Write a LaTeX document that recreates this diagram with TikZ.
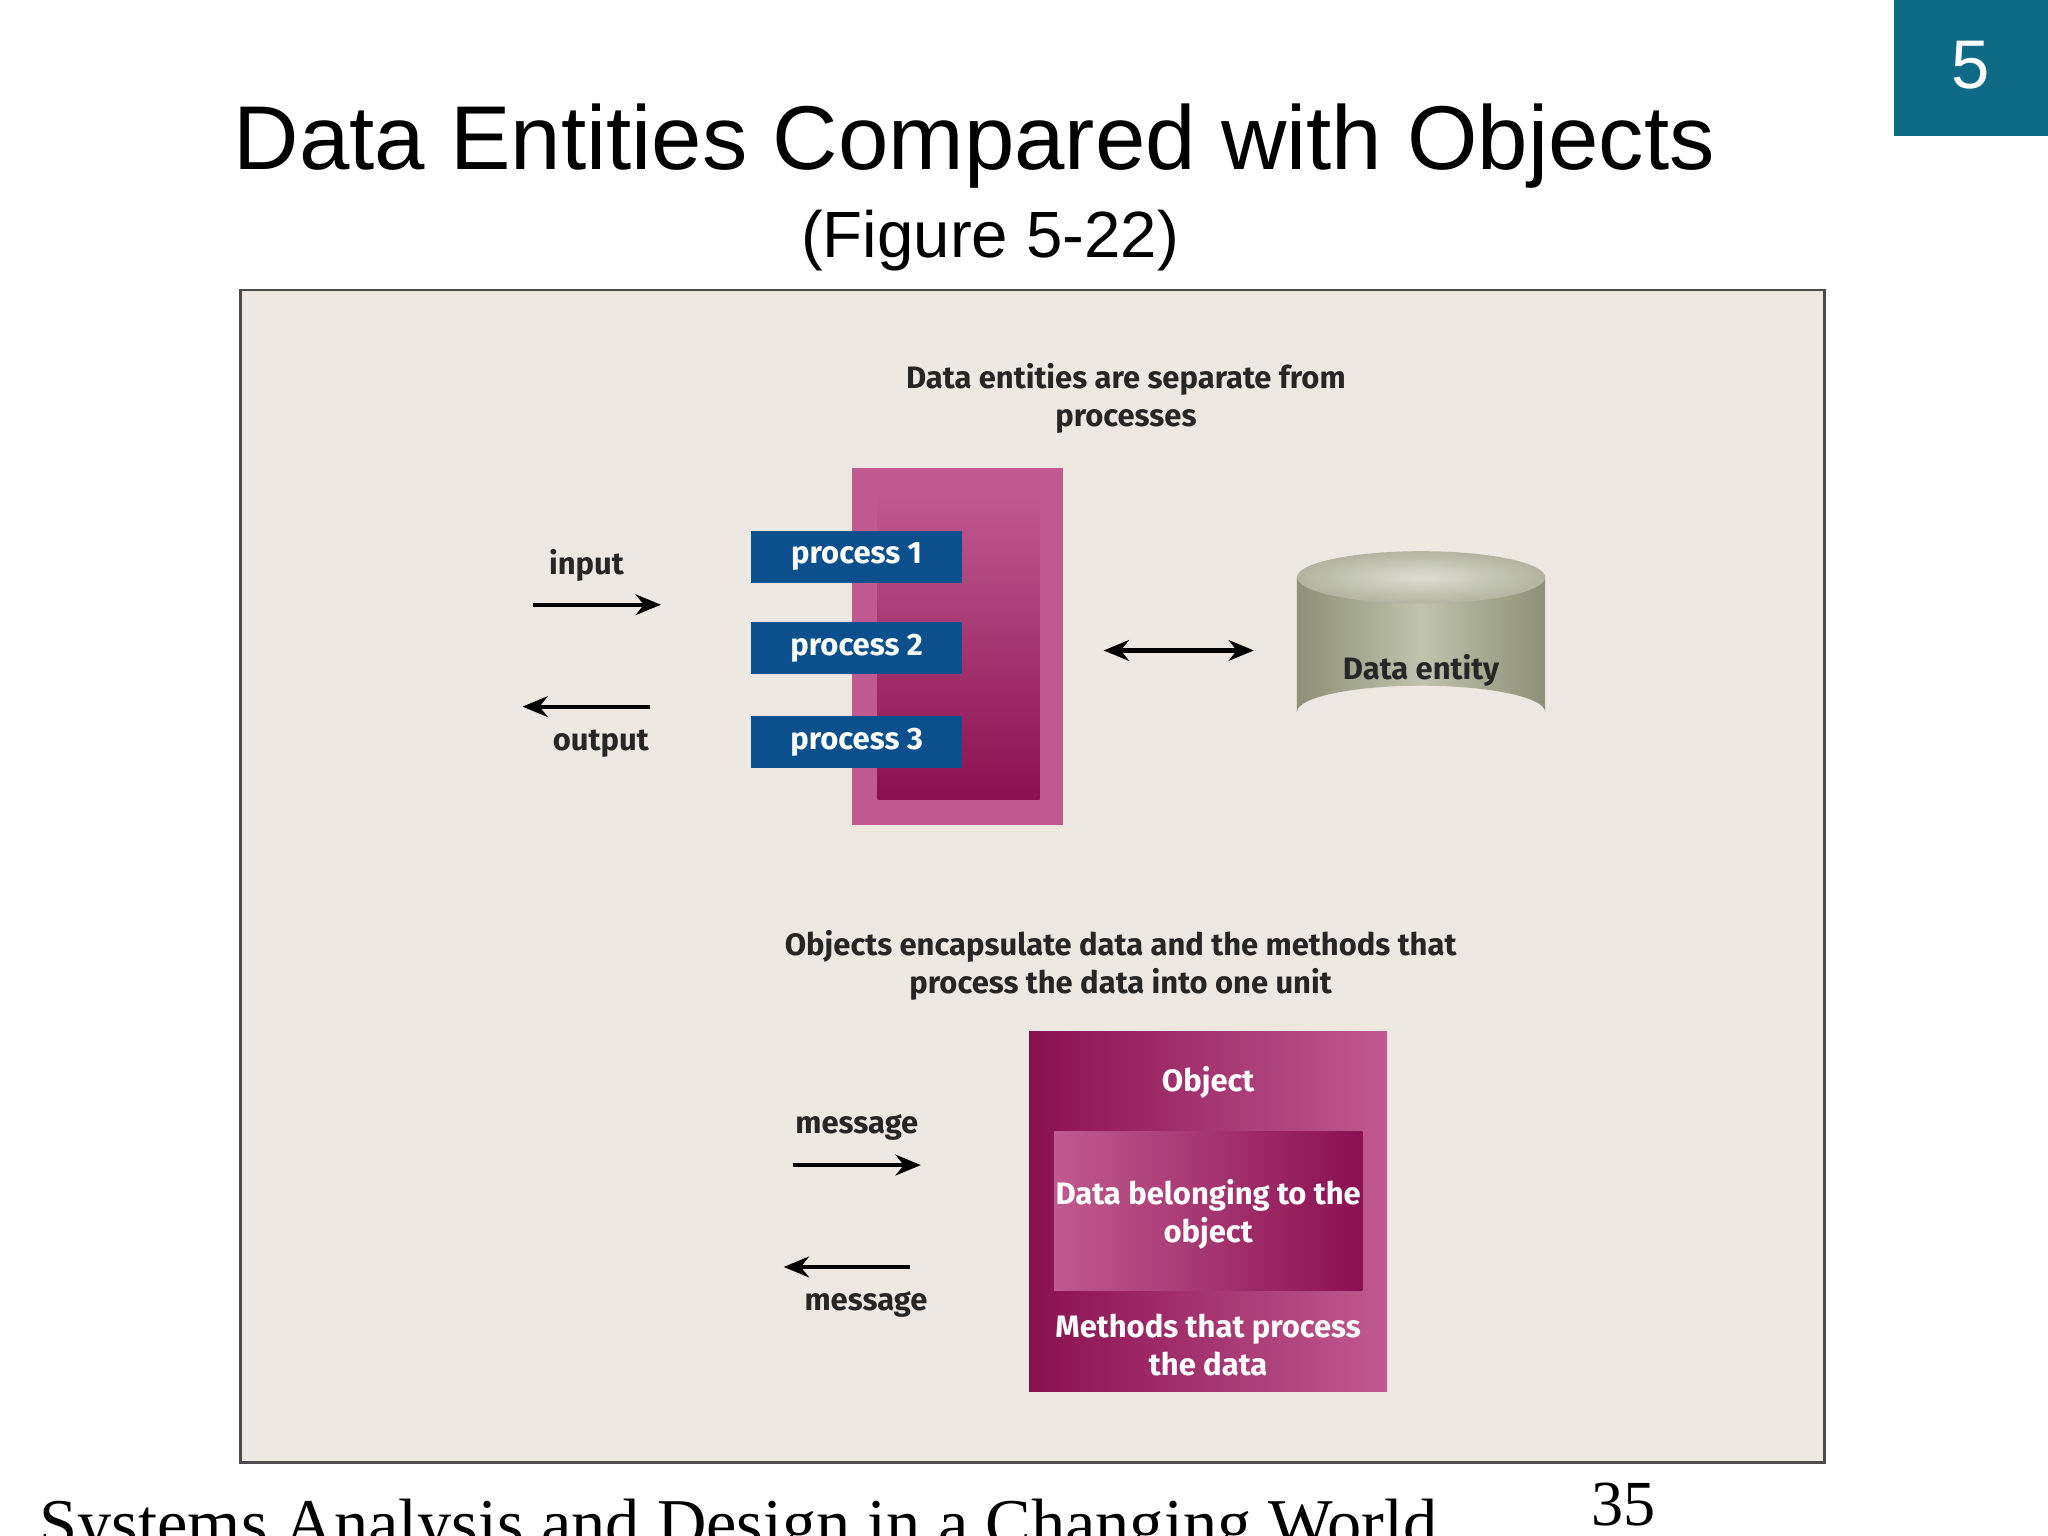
\documentclass[tikz,border=0pt]{standalone}
\usepackage{fontspec}
\setmainfont{Liberation Sans}
\newfontfamily\lbl{Fira Sans}
\newfontfamily\tms{Liberation Serif}
\usetikzlibrary{arrows.meta,shapes.geometric}
\definecolor{teal5}{HTML}{0E6A86}
\definecolor{panel}{HTML}{EDE8E2}
\definecolor{procblue}{HTML}{0B4F8C}
\definecolor{magL}{HTML}{C05A90}
\definecolor{magD}{HTML}{8A1050}
\definecolor{cylS}{HTML}{A6AA8B}
\definecolor{cylT}{HTML}{C6C8B2}
\tikzset{
 lab/.style={font=\lbl\bfseries\fontsize{13.5}{16.5}\selectfont, text=black!85, align=center},
 wlab/.style={font=\lbl\bfseries\fontsize{13.5}{16.5}\selectfont, text=white, align=center},
 proc/.style={fill=procblue, minimum width=161*0.02cm, minimum height=40*0.02cm, inner sep=0pt, wlab, anchor=north west},
 arr/.style={line width=1.8pt, -{Stealth[length=11pt,width=9pt]}},
}
\begin{document}
\begin{tikzpicture}[x=0.02cm,y=-0.02cm]
\useasboundingbox (0,0) rectangle (1568,1176);
\fill[white] (0,0) rectangle (1568,1176);
\fill[teal5] (1450,0) rectangle (1568,104);
\node[text=white, font=\fontsize{30}{34}\selectfont] (num) at (1509,50) {5};
\node[font=\fontsize{39.5}{46}\selectfont] (title) at (746,112) {Data Entities Compared with Objects};
\node[font=\fontsize{28.5}{32}\selectfont] (fig) at (758,184) {(Figure 5-22)};
\draw[fill=panel, draw=black!70, line width=1.2pt] (184,222) rectangle (1397,1120);
% top part
\node[lab] (t1) at (862,305) {Data entities are separate from\\processes};
\fill[magL] (652,358) rectangle (814,632);
\shade[top color=magL, bottom color=magD] (672,376) rectangle (796,612);
\node[proc] (p1) at (575,406) {process 1};
\node[proc] (p2) at (575,476) {process 2};
\node[proc] (p3) at (575,548) {process 3};
\node[lab] (in) at (449,433) {input};
\coordinate (ia) at (408,463); \coordinate (ib) at (506,463);
\draw[arr] (ia) -- (ib);
\coordinate (oa) at (498,541); \coordinate (ob) at (400,541);
\draw[arr] (oa) -- (ob);
\node[lab] (out) at (460,569) {output};
\coordinate (da) at (845,498); \coordinate (db) at (960,498);
\draw[line width=1.8pt, {Stealth[length=11pt,width=9pt]}-{Stealth[length=11pt,width=9pt]}] (da) -- (db);
% cylinder
\shade[left color=cylS!85!black, right color=cylS!85!black, middle color=cylS!70!white] (993,442) -- (993,545) arc[start angle=180,end angle=360,x radius=95,y radius=20] -- (1183,442) -- cycle;
\shade[inner color=cylT!60!white, outer color=cylT!90!black] (1088,442) ellipse[x radius=95, y radius=20];
\node[lab] (de) at (1088,513) {Data entity};
% bottom part
\node[lab] (t2) at (858,739) {Objects encapsulate data and the methods that\\process the data into one unit};
\shade[left color=magD, right color=magL] (788,790) rectangle (1062,1065);
\shade[left color=magL, right color=magD] (807,866) rectangle (1043,988);
\node[wlab] (obj) at (925,829) {Object};
\node[wlab] (dat) at (925,930) {Data belonging to the\\object};
\node[wlab] (met) at (925,1030) {Methods that process\\the data};
\node[lab] (m1) at (656,863) {message};
\coordinate (ma) at (607,892); \coordinate (mb) at (705,892);
\draw[arr] (ma) -- (mb);
\coordinate (na) at (697,970); \coordinate (nb) at (600,970);
\draw[arr] (na) -- (nb);
\node[lab] (m2) at (663,999) {message};
% footer
\node[font=\tms\fontsize{29.8}{34}\selectfont, anchor=base west, inner sep=0pt] (foot) at (30,1184) {Systems Analysis and Design in a Changing World};
\node[font=\tms\fontsize{28}{32}\selectfont, anchor=base, inner sep=0pt] (pg) at (1243,1168) {35};
\end{tikzpicture}
\end{document}
